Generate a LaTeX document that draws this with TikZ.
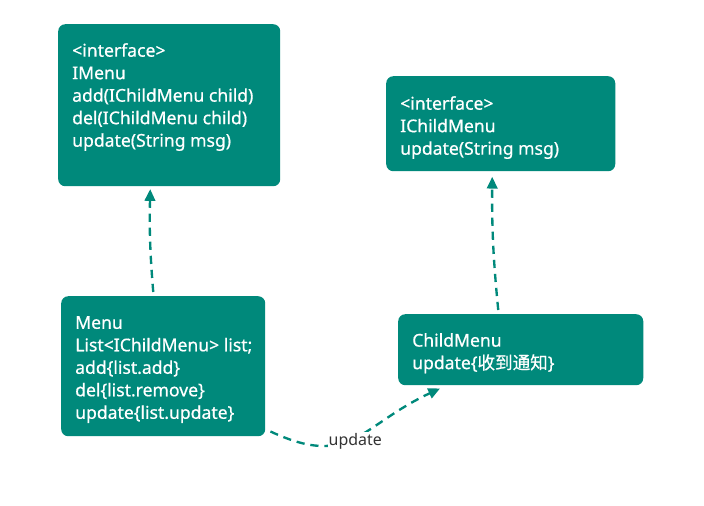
\documentclass[tikz,border=0pt]{standalone}
\usepackage{fontspec}
\setmainfont{Noto Sans}
\newfontfamily\boxfont[FakeBold=0.6]{Noto Sans}
\newfontfamily\cjk[FakeBold=0.6]{Noto Sans CJK SC}
\usetikzlibrary{positioning,arrows.meta}
\definecolor{boxteal}{RGB}{0,137,123}
\definecolor{labelgray}{RGB}{51,51,51}
\tikzset{
  umlbox/.style={fill=boxteal, rounded corners=6pt, anchor=north west, inner sep=0pt},
  umltext/.style={text=white, align=left, inner sep=0pt, font=\boxfont\fontsize{15}{19.2}\selectfont},
  dep/.style={boxteal, line width=2pt, dash pattern=on 7pt off 5pt,
    -{Triangle[length=10pt,width=9pt]}},
}
\begin{document}
\begin{tikzpicture}[x=0.03cm, y=-0.03cm]
  \useasboundingbox (0,0) rectangle (704,505);
  % boxes
  \node[umlbox, minimum width=6.66cm, minimum height=4.86cm] (imenu) at (58,24) {};
  \node[umlbox, minimum width=6.87cm, minimum height=2.85cm] (ichild) at (386,76) {};
  \node[umlbox, minimum width=6.12cm, minimum height=4.2cm] (menu) at (61,296) {};
  \node[umlbox, minimum width=7.35cm, minimum height=2.13cm] (child) at (398,314) {};
  % texts
  \node[umltext, below right=0.57cm and 0.42cm of imenu.north west] (imenuText)
    {<interface>\\IMenu\\add(IChildMenu child)\\del(IChildMenu child)\\update(String msg)};
  \node[umltext, below right=0.6cm and 0.42cm of ichild.north west] (ichildText)
    {<interface>\\IChildMenu\\update(String msg)};
  \node[umltext, below right=0.6cm and 0.42cm of menu.north west] (menuText)
    {Menu\\List<IChildMenu> list;\\add\{list.add\}\\del\{list.remove\}\\update\{list.update\}};
  \node[umltext, below right=0.57cm and 0.42cm of child.north west] (childText)
    {ChildMenu\\update\{{\cjk 收到通知}\}};
  % connectors
  \draw[dep] ([xshift=-0.3cm, yshift=0.12cm]menu.north)
    to[bend left=3] ([xshift=-0.57cm, yshift=-0.08cm]imenu.south);
  \draw[dep] ([xshift=-0.675cm, yshift=0.12cm]child.north)
    to[bend left=3] ([xshift=-0.255cm, yshift=-0.16cm]ichild.south);
  \draw[dep] ([xshift=0.15cm, yshift=0.15cm]menu.south east)
    to[out=-25, in=205, looseness=1.3]
    node[pos=0.5, yshift=-0.1cm, fill=white, inner sep=1pt, text=labelgray, font=\fontsize{13.6}{16}\selectfont] (updLabel) {update}
    ([xshift=1.26cm, yshift=-0.09cm]child.south west);
\end{tikzpicture}
\end{document}
